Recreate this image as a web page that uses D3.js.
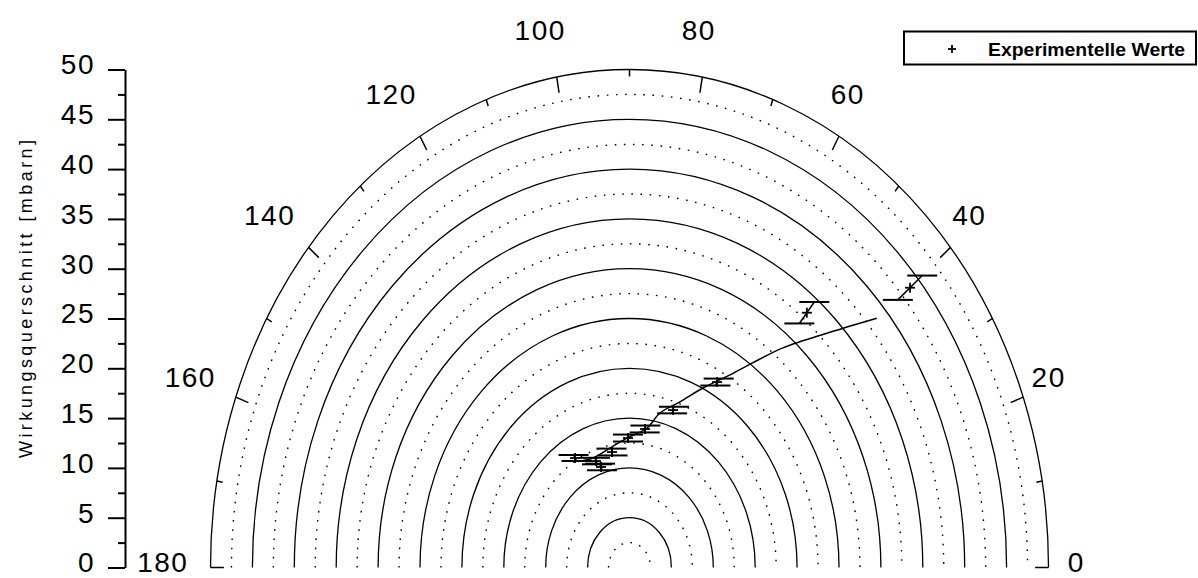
<!DOCTYPE html>
<html>
<head>
<meta charset="utf-8">
<script src="https://cdn.jsdelivr.net/npm/d3@7"></script>
<style>
  html, body { margin: 0; padding: 0; background: #fff; }
  svg { display: block; }
  text { font-family: "Liberation Sans", Arial, sans-serif; fill: #000; }
</style>
</head>
<body>
<svg id="chart" width="1198" height="578"></svg>
<script>
// Radial axis (cross section, mbarn)
const radialTicks = [0, 5, 10, 15, 20, 25, 30, 35, 40, 45, 50];
const radialMinor = [2.5, 7.5, 12.5, 17.5, 22.5, 27.5, 32.5, 37.5, 42.5, 47.5];
// Angular axis (degrees)
const angleLabels = [0, 20, 40, 60, 80, 100, 120, 140, 160, 180];
const angleMinor = [10, 30, 50, 70, 90, 110, 130, 150, 170];

// Measured values: angle (deg), cross section, error
const expAngle = [40, 50.4, 60.7, 71.8, 82.4, 90.8, 100.2, 108.6, 110.5, 120.6];
const expR     = [43.7, 33.2, 21.35, 16.64, 14.03, 13.0, 11.78, 10.65, 11.41, 12.77];
const expErr   = [1.9, 1.4, 0.4, 0.35, 0.35, 0.35, 0.35, 0.35, 0.35, 0.35];

// Calculated curve
const fitAngle = [40.3, 44.65, 50.3, 54.5, 58.2, 64.05, 70.1, 76.8, 81.5, 91.3, 101, 111.6, 120];
const fitR     = [38.7, 33.6, 28.66, 25.2, 22.75, 20.04, 17.68, 15.93, 14.16, 13.0, 12.22, 11.83, 12.3];

const svg = d3.select("#chart");

const cx = 629.5;
const yScale = d3.scaleLinear().domain([0, 50]).range([567.5, 69.5]);
const cy = yScale(0);
const rX = d3.scaleLinear().domain([0, 50]).range([0, 419]);
const rY = d3.scaleLinear().domain([0, 50]).range([0, cy - yScale(50)]);

const rad = a => a * Math.PI / 180;
const px = (a, r) => cx + rX(r) * Math.cos(rad(a));
const py = (a, r) => cy - rY(r) * Math.sin(rad(a));

const labelSize = 28;

// Half-ellipse rings
const ring = r => `M${cx - rX(r)},${cy} A${rX(r)},${rY(r)} 0 0 1 ${cx + rX(r)},${cy}`;
const grid = svg.append("g").attr("fill", "none").attr("stroke", "#000");
grid.selectAll("path.minor").data(radialMinor).join("path")
  .attr("class", "minor").attr("d", ring)
  .attr("stroke-width", 1.4).attr("stroke-dasharray", "1.6,7.6");
grid.selectAll("path.major").data(radialTicks.filter(d => d > 0)).join("path")
  .attr("class", "major").attr("d", ring).attr("stroke-width", 1.3);

// Angular ticks on the outer ring
const rMax = 50;
const ticks = svg.append("g").attr("stroke", "#000").attr("stroke-width", 1.5);
ticks.selectAll("line.maj").data(angleLabels).join("line")
  .attr("x1", a => px(a, rMax)).attr("y1", a => py(a, rMax))
  .attr("x2", a => px(a, rMax - 1.6)).attr("y2", a => py(a, rMax - 1.6));
ticks.selectAll("line.min").data(angleMinor).join("line")
  .attr("x1", a => px(a, rMax)).attr("y1", a => py(a, rMax))
  .attr("x2", a => px(a, rMax - 0.7)).attr("y2", a => py(a, rMax - 0.7));

// Angle labels
svg.append("g").selectAll("text").data(angleLabels).join("text")
  .attr("x", a => px(a, 54.5) - 10)
  .attr("y", a => py(a, 54.2))
  .attr("dy", "0.16em")
  .attr("text-anchor", "middle")
  .attr("font-size", labelSize)
  .attr("letter-spacing", 1.5)
  .text(d => d);

// Left radial axis
const axis = svg.append("g").attr("transform", "translate(125,0)")
  .call(d3.axisLeft(yScale).tickValues(radialTicks).tickSize(17).tickSizeOuter(0).tickPadding(13));
axis.select(".domain").attr("stroke-width", 2);
axis.selectAll(".tick line").attr("stroke-width", 2);
axis.selectAll(".tick text").attr("font-size", labelSize)
  .attr("font-family", "Liberation Sans, Arial, sans-serif")
  .attr("dy", "0.16em")
  .attr("letter-spacing", 1.5);
const axisMinor = svg.append("g").attr("transform", "translate(125,0)")
  .call(d3.axisLeft(yScale).tickValues(radialMinor).tickSize(7).tickSizeOuter(0).tickFormat(""));
axisMinor.select(".domain").remove();
axisMinor.selectAll(".tick line").attr("stroke-width", 2);

// Axis title
svg.append("text")
  .attr("transform", `translate(32,${(140 + 458) / 2}) rotate(-90)`)
  .attr("text-anchor", "middle")
  .attr("font-size", 18)
  .attr("textLength", 318)
  .attr("lengthAdjust", "spacing")
  .text("Wirkungsquerschnitt  [mbarn]");

// Calculated curve
const fitData = fitAngle.map((a, i) => [a, fitR[i]]);
svg.append("path")
  .datum(fitData)
  .attr("fill", "none").attr("stroke", "#000").attr("stroke-width", 1.5)
  .attr("d", d3.line().x(d => px(d[0], d[1])).y(d => py(d[0], d[1])).curve(d3.curveCatmullRom));

// Measured points with radial error bars and horizontal caps
const exp = expAngle.map((a, i) => ({ a, r: expR[i], e: expErr[i] }));
const capW = 30;
const pts = svg.append("g").attr("stroke", "#000").attr("fill", "none");
const eg = pts.selectAll("g").data(exp).join("g");
eg.append("line").attr("stroke-width", 1.5)
  .attr("x1", d => px(d.a, d.r - d.e)).attr("y1", d => py(d.a, d.r - d.e))
  .attr("x2", d => px(d.a, d.r + d.e)).attr("y2", d => py(d.a, d.r + d.e));
[-1, 1].forEach(s => {
  eg.append("line").attr("stroke-width", 2)
    .attr("x1", d => px(d.a, d.r + s * d.e) - capW / 2).attr("y1", d => py(d.a, d.r + s * d.e))
    .attr("x2", d => px(d.a, d.r + s * d.e) + capW / 2).attr("y2", d => py(d.a, d.r + s * d.e));
});
const plus = (sel, size) => {
  sel.append("line").attr("stroke-width", 1.8)
    .attr("x1", d => d.x - size).attr("y1", d => d.y).attr("x2", d => d.x + size).attr("y2", d => d.y);
  sel.append("line").attr("stroke-width", 1.8)
    .attr("x1", d => d.x).attr("y1", d => d.y - size).attr("x2", d => d.x).attr("y2", d => d.y + size);
};
const mg = pts.append("g").selectAll("g").data(exp.map(d => ({ x: px(d.a, d.r), y: py(d.a, d.r) }))).join("g");
plus(mg, 5);

// Legend
const lg = svg.append("g");
lg.append("rect").attr("x", 904).attr("y", 31.5).attr("width", 292).attr("height", 33)
  .attr("fill", "#fff").attr("stroke", "#000").attr("stroke-width", 2);
plus(lg.append("g").attr("stroke", "#000").datum({ x: 952, y: 49 }), 4);
lg.append("text").attr("x", 988).attr("y", 49)
  .attr("dominant-baseline", "central")
  .attr("font-size", 19).attr("font-weight", "bold")
  .attr("textLength", 197).attr("lengthAdjust", "spacingAndGlyphs")
  .text("Experimentelle Werte");
</script>
</body>
</html>
